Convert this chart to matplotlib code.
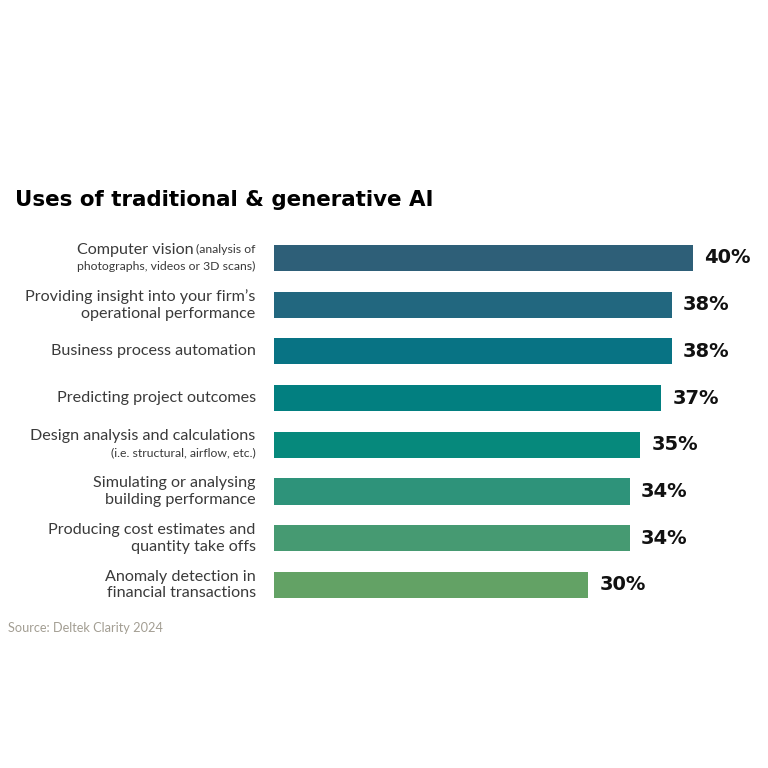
import matplotlib
matplotlib.use("Agg")
import matplotlib.pyplot as plt

# data
labels = [
    "Computer vision",
    "Providing insight into your firm\u2019s\noperational performance",
    "Business process automation",
    "Predicting project outcomes",
    "Design analysis and calculations",
    "Simulating or analysing\nbuilding performance",
    "Producing cost estimates and\nquantity take offs",
    "Anomaly detection in\nfinancial transactions",
]
values = [40, 38, 38, 37, 35, 34, 34, 30]
colors = ["#2e5f78", "#22677f", "#087384", "#027f80", "#06897c",
          "#2e937a", "#469a72", "#63a265"]
title = "Uses of traditional & generative AI"
source = "Source: Deltek Clarity 2024"

FONT = "Lato"
BOLD_FONT = "DejaVu Sans"
LABEL_COLOR = "#3a3a3a"

fig = plt.figure(figsize=(7.68, 7.68), dpi=100)
ax = fig.add_axes([274 / 768, 1 - 608.25 / 768, (46 * 10.47) / 768, (608.25 - 234.65) / 768])

ypos = list(range(len(values)))
ax.barh(ypos, values, height=0.56, color=colors, edgecolor="none")
ax.set_xlim(0, 46)
ax.set_ylim(7.5, -0.5)
ax.axis("off")

# value labels
for y, v in zip(ypos, values):
    ax.annotate(f"{v}%", xy=(v, y), xytext=(8, 0), textcoords="offset points",
                ha="left", va="center", fontsize=14, fontweight="bold",
                family=BOLD_FONT, color="#111111")

# category labels
lab_x = -1.75
big = 11.6
small = 8.8
for y, lab in zip(ypos, labels):
    if y == 0:
        t1 = ax.text(lab_x, y - 0.18, "(analysis of", ha="right", va="center",
                     fontsize=small, family=FONT, color=LABEL_COLOR)
        fig.canvas.draw()
        bb = t1.get_window_extent(fig.canvas.get_renderer())
        x_left = ax.transData.inverted().transform((bb.x0, 0))[0]
        ax.text(x_left - 0.3, y - 0.18, "Computer vision", ha="right", va="center",
                fontsize=big, family=FONT, color=LABEL_COLOR)
        ax.text(lab_x, y + 0.18, "photographs, videos or 3D scans)", ha="right",
                va="center", fontsize=small, family=FONT, color=LABEL_COLOR)
    elif y == 4:
        ax.text(lab_x, y - 0.18, lab, ha="right", va="center",
                fontsize=big, family=FONT, color=LABEL_COLOR)
        ax.text(lab_x, y + 0.18, "(i.e. structural, airflow, etc.)", ha="right",
                va="center", fontsize=small, family=FONT, color=LABEL_COLOR)
    else:
        ax.text(lab_x, y, lab, ha="right", va="center", multialignment="right",
                fontsize=big, family=FONT, color=LABEL_COLOR, linespacing=1.25)

fig.text(15 / 768, 1 - 200 / 768, title, ha="left", va="center",
         fontsize=15.4, fontweight="bold", family=BOLD_FONT, color="#000000")
fig.text(8 / 768, 1 - 628 / 768, source, ha="left", va="center",
         fontsize=9.2, family=FONT, color="#a39e93")

fig.savefig("out.png", dpi=100, facecolor="white")
